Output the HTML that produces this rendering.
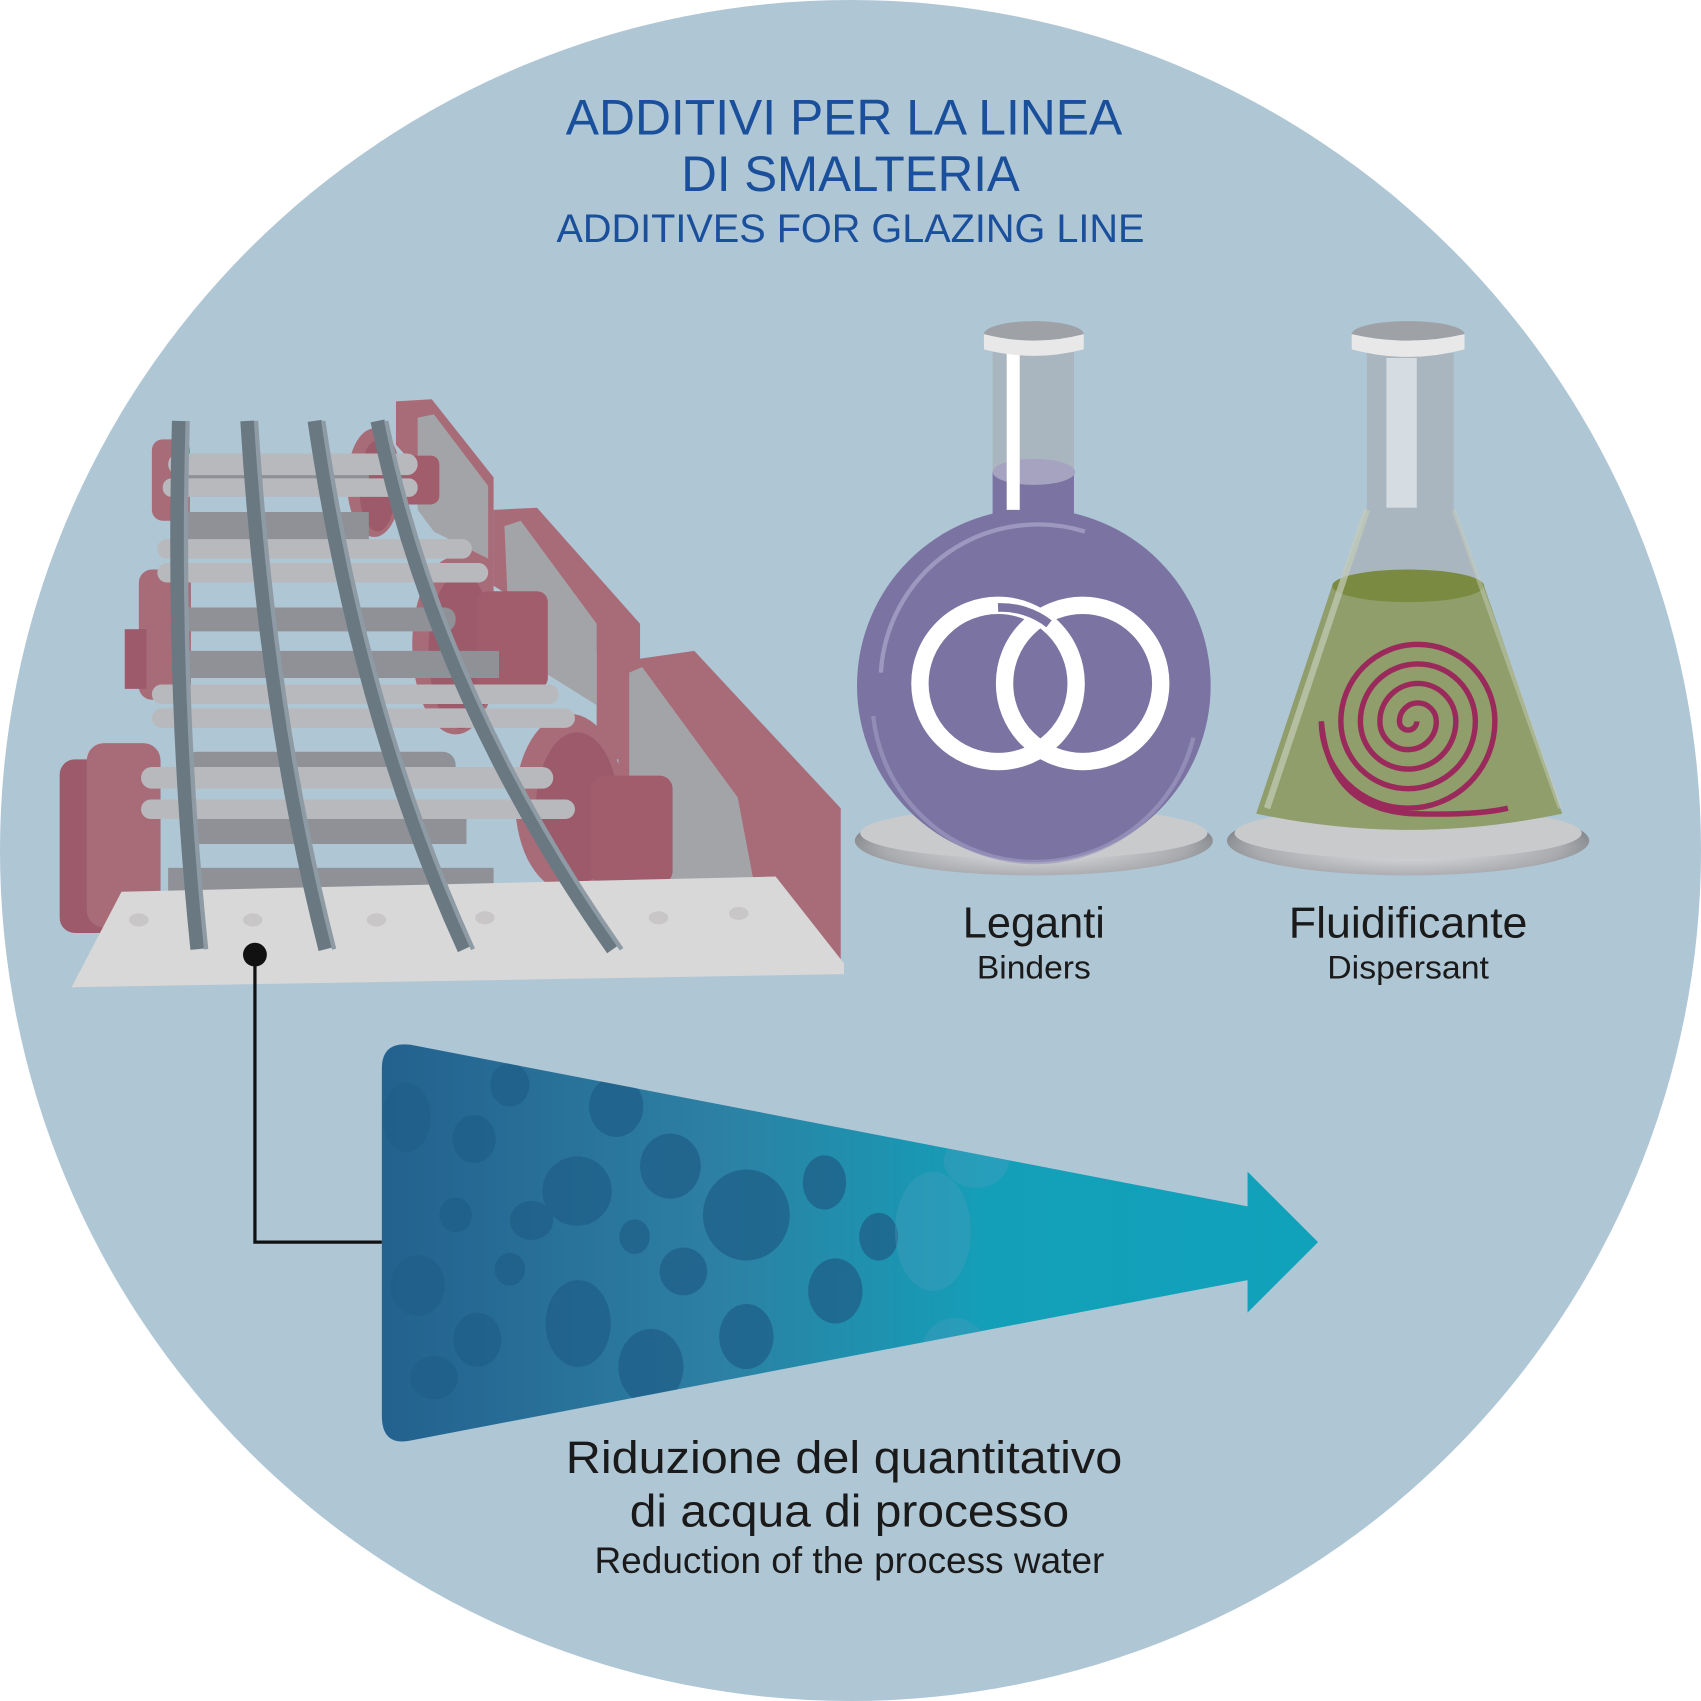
<!DOCTYPE html>
<html><head><meta charset="utf-8"><style>html,body{margin:0;padding:0;background:#fff}svg{display:block}</style></head>
<body>
<svg width="1701" height="1701" viewBox="0 0 1568 1568" xmlns="http://www.w3.org/2000/svg">
<defs>
<linearGradient id="wg" x1="0" y1="0" x2="1" y2="0">
<stop offset="0" stop-color="#23618e"/><stop offset="0.35" stop-color="#2d7fa3"/><stop offset="0.65" stop-color="#149fb8"/><stop offset="1" stop-color="#10a2bb"/>
</linearGradient>
<radialGradient id="plate" cx="0.5" cy="0.6" r="0.6"><stop offset="0" stop-color="#e6e6e8"/><stop offset="0.7" stop-color="#a9abaf"/><stop offset="1" stop-color="#6f7276"/></radialGradient>
<clipPath id="arrowclip"><path d="M352,985 Q352,960 378,963 L1150,1112 L1150,1080 L1215,1145 L1150,1210 L1150,1180 L378,1328 Q352,1333 352,1305 Z"/></clipPath>
</defs>
<circle cx="784" cy="784" r="784" fill="#afc6d5"/>

<g font-family="'Liberation Sans Narrow','Liberation Sans',sans-serif" fill="#1a4f9c" text-anchor="middle">
<text x="778" y="124" font-size="46" textLength="513" lengthAdjust="spacingAndGlyphs">ADDITIVI PER LA LINEA</text>
<text x="784" y="176" font-size="46" textLength="312" lengthAdjust="spacingAndGlyphs">DI SMALTERIA</text>
<text x="784" y="223" font-size="37" textLength="542" lengthAdjust="spacingAndGlyphs">ADDITIVES FOR GLAZING LINE</text>
</g>

<g>
<path d="M365,370 L398,368 L455,440 L455,560 L420,560 L420,470 L365,410 Z" fill="#a86c78"/>
<path d="M385,385 L400,382 L450,448 L450,515 L400,490 L385,470 Z" fill="#a3a4a8"/>
<path d="M455,470 L495,468 L590,575 L590,700 L550,700 L550,600 L455,540 Z" fill="#a86c78"/>
<path d="M465,485 L480,480 L550,575 L550,650 L470,600 Z" fill="#a3a4a8"/>
<path d="M570,610 L640,600 L775,745 L775,895 L700,840 L570,830 Z" fill="#a86c78"/>
<path d="M580,620 L592,615 L680,735 L700,840 L620,840 L580,720 Z" fill="#a3a4a8"/>
<ellipse cx="345" cy="445" rx="25" ry="50" fill="#a86c78"/><ellipse cx="348" cy="448" rx="17" ry="42" fill="#9c5a6a"/>
<rect x="360" y="420" width="45" height="45" rx="8" fill="#a25d6d"/>
<ellipse cx="420" cy="595" rx="40" ry="82" fill="#a86c78"/><ellipse cx="425" cy="600" rx="30" ry="72" fill="#9c5a6a"/>
<rect x="440" y="545" width="65" height="90" rx="10" fill="#a25d6d"/>
<ellipse cx="525" cy="740" rx="50" ry="82" fill="#a86c78"/><ellipse cx="532" cy="745" rx="38" ry="70" fill="#9c5a6a"/>
<rect x="545" y="715" width="75" height="100" rx="12" fill="#a25d6d"/>
<rect x="140" y="405" width="35" height="75" rx="10" fill="#a86c78"/>
<rect x="128" y="525" width="48" height="120" rx="12" fill="#a86c78"/>
<rect x="115" y="580" width="20" height="55" fill="#9c5a6a"/>
<rect x="55" y="700" width="60" height="160" rx="14" fill="#9c5a6a"/>
<rect x="80" y="685" width="68" height="170" rx="16" fill="#a86c78"/>
<rect x="165" y="432" width="175" height="20" fill="#8f9196"/>
<rect x="160" y="472" width="180" height="32" fill="#8f9196"/>
<rect x="170" y="693" width="250" height="28" rx="12" fill="#8f9196"/>
<rect x="170" y="742" width="260" height="36" fill="#8f9196"/>
<rect x="160" y="600" width="300" height="25" fill="#8f9196"/>
<rect x="160" y="560" width="260" height="22" rx="10" fill="#8f9196"/>
<rect x="155" y="800" width="300" height="22" fill="#8f9196"/>
<g fill="#b8b9bd">
<rect x="155" y="418" width="230" height="20" rx="10"/>
<rect x="150" y="441" width="235" height="17" rx="8"/>
<rect x="145" y="497" width="290" height="18" rx="9"/>
<rect x="145" y="519" width="305" height="18" rx="9"/>
<rect x="140" y="631" width="375" height="18" rx="9"/>
<rect x="140" y="653" width="390" height="18" rx="9"/>
<rect x="130" y="707" width="380" height="20" rx="10"/>
<rect x="130" y="737" width="400" height="18" rx="9"/>
</g>
<path d="M112,822 L715,808 L778,888 L778,898 L66,910 Z" fill="#d8d8d8"/>
<g fill="#c8c6c6">
<ellipse cx="128" cy="848" rx="9" ry="6"/><ellipse cx="233" cy="848" rx="9" ry="6"/><ellipse cx="347" cy="848" rx="9" ry="6"/><ellipse cx="447" cy="846" rx="9" ry="6"/><ellipse cx="607" cy="846" rx="9" ry="6"/><ellipse cx="681" cy="842" rx="9" ry="6"/>
</g>
<g fill="none" stroke-linecap="butt">
<path d="M165,388 Q158,640 182,875" stroke="#6a7882" stroke-width="13"/>
<path d="M228,388 Q245,660 300,875" stroke="#6a7882" stroke-width="13"/>
<path d="M290,388 Q330,660 428,875" stroke="#6a7882" stroke-width="13"/>
<path d="M348,388 Q400,640 565,875" stroke="#6a7882" stroke-width="13"/>
<path d="M173,388 Q166,640 190,875" stroke="#8e9ba5" stroke-width="4"/>
<path d="M236,388 Q253,660 308,875" stroke="#8e9ba5" stroke-width="4"/>
<path d="M298,388 Q338,660 436,875" stroke="#8e9ba5" stroke-width="4"/>
<path d="M356,388 Q408,640 573,875" stroke="#8e9ba5" stroke-width="4"/>
</g>
</g>

<circle cx="235" cy="880" r="11" fill="#111"/>
<path d="M235,880 L235,1145 L352,1145" fill="none" stroke="#111" stroke-width="3"/>

<path d="M352,985 Q352,960 378,963 L1150,1112 L1150,1080 L1215,1145 L1150,1210 L1150,1180 L378,1328 Q352,1333 352,1305 Z" fill="url(#wg)"/>
<g clip-path="url(#arrowclip)" fill="#1f5f88" opacity="0.75">
<ellipse cx="375" cy="1030" rx="22" ry="32"/><ellipse cx="385" cy="1185" rx="25" ry="28"/><ellipse cx="400" cy="1270" rx="22" ry="20"/>
<ellipse cx="437" cy="1050" rx="20" ry="22"/><ellipse cx="470" cy="1000" rx="18" ry="20"/><ellipse cx="490" cy="1125" rx="20" ry="18"/>
<ellipse cx="440" cy="1235" rx="22" ry="25"/><ellipse cx="532" cy="1098" rx="32" ry="32"/><ellipse cx="533" cy="1220" rx="30" ry="40"/>
<ellipse cx="568" cy="1020" rx="25" ry="28"/><ellipse cx="600" cy="1260" rx="30" ry="35"/><ellipse cx="618" cy="1075" rx="28" ry="30"/>
<ellipse cx="630" cy="1172" rx="22" ry="22"/><ellipse cx="688" cy="1120" rx="40" ry="42"/><ellipse cx="688" cy="1232" rx="25" ry="30"/>
<ellipse cx="760" cy="1090" rx="20" ry="25"/><ellipse cx="770" cy="1190" rx="25" ry="30"/><ellipse cx="810" cy="1140" rx="18" ry="22"/>
<ellipse cx="420" cy="1120" rx="15" ry="16"/><ellipse cx="470" cy="1170" rx="14" ry="15"/><ellipse cx="585" cy="1140" rx="14" ry="16"/>
</g>
<g clip-path="url(#arrowclip)" fill="#4a9fc0" opacity="0.35">
<ellipse cx="860" cy="1135" rx="35" ry="55"/><ellipse cx="900" cy="1070" rx="30" ry="25"/><ellipse cx="880" cy="1245" rx="30" ry="30"/>
</g>

<g>
<ellipse cx="953" cy="775" rx="165" ry="32" fill="url(#plate)"/>
<ellipse cx="953" cy="768" rx="160" ry="24" fill="#c9cacc"/>
<rect x="915" y="318" width="75" height="120" fill="#a9b5bf"/>
<rect x="915" y="435" width="75" height="70" fill="#7b74a2"/>
<ellipse cx="953" cy="435" rx="38" ry="12" fill="#a6a3c0"/>
<circle cx="953" cy="632" r="163" fill="#7b74a2"/>
<path d="M812,620 A145,145 0 0 1 1000,490" fill="none" stroke="#9d98bf" stroke-width="4"/>
<path d="M805,660 A150,150 0 0 0 1100,680" fill="none" stroke="#9d98bf" stroke-width="4" opacity="0.7"/>
<rect x="928" y="325" width="12" height="145" fill="#ffffff"/>
<ellipse cx="953" cy="308" rx="46" ry="12" fill="#9ea1a6"/>
<path d="M907,308 L907,322 Q953,334 999,322 L999,308 Q953,320 907,308 Z" fill="#e8e8e8"/>
<circle cx="920" cy="630" r="72" fill="none" stroke="#ffffff" stroke-width="16"/>
<circle cx="998" cy="630" r="72" fill="none" stroke="#ffffff" stroke-width="16"/>
<path d="M920,560 A72,72 0 0 1 967,575" fill="none" stroke="#7b74a2" stroke-width="8"/>
</g>

<g>
<ellipse cx="1298" cy="775" rx="167" ry="32" fill="url(#plate)"/>
<ellipse cx="1298" cy="768" rx="160" ry="24" fill="#c9cacc"/>
<path d="M1260,325 L1340,325 L1340,470 L1440,750 Q1298,780 1158,750 L1260,470 Z" fill="#a9b5bf"/>
<path d="M1228,540 L1368,540 L1440,750 Q1298,780 1158,750 Z" fill="#8f9e6a"/>
<ellipse cx="1298" cy="540" rx="70" ry="15" fill="#7a8a40"/>
<path d="M1260,470 L1168,745" stroke="#c5ccb8" stroke-width="6" fill="none" opacity="0.7"/>
<path d="M1340,470 L1438,745" stroke="#c5ccb8" stroke-width="4" fill="none" opacity="0.5"/>
<rect x="1278" y="330" width="28" height="138" fill="#d6dde2"/>
<ellipse cx="1298" cy="308" rx="52" ry="12" fill="#9ea1a6"/>
<path d="M1246,308 L1246,322 Q1298,336 1350,322 L1350,308 Q1298,320 1246,308 Z" fill="#e8e8e8"/>
<path d="M1306,665 A8,8 0 0 1 1290,665 A17,17 0 0 1 1324,665 A26,26 0 0 1 1272,665 A35,35 0 0 1 1342,665 A44,44 0 0 1 1254,665 A53,53 0 0 1 1360,665 A62,62 0 0 1 1236,665 A71,71 0 0 1 1378,665 A80,80 0 0 1 1218,665 Q1225,745 1300,750 Q1360,752 1390,745" fill="none" stroke="#9b2a5c" stroke-width="5"/>
</g>

<g font-family="'Liberation Sans Narrow','Liberation Sans',sans-serif" fill="#1a1a1a" text-anchor="middle">
<text x="953" y="864" font-size="40" textLength="131" lengthAdjust="spacingAndGlyphs">Leganti</text>
<text x="953" y="902" font-size="30" textLength="105" lengthAdjust="spacingAndGlyphs">Binders</text>
<text x="1298" y="864" font-size="40" textLength="220" lengthAdjust="spacingAndGlyphs">Fluidificante</text>
<text x="1298" y="902" font-size="30" textLength="149" lengthAdjust="spacingAndGlyphs">Dispersant</text>
<text x="778" y="1358" font-size="42" textLength="513" lengthAdjust="spacingAndGlyphs">Riduzione del quantitativo</text>
<text x="783" y="1407" font-size="42" textLength="405" lengthAdjust="spacingAndGlyphs">di acqua di processo</text>
<text x="783" y="1450" font-size="34" textLength="470" lengthAdjust="spacingAndGlyphs">Reduction of the process water</text>
</g>
</svg>
</body></html>
